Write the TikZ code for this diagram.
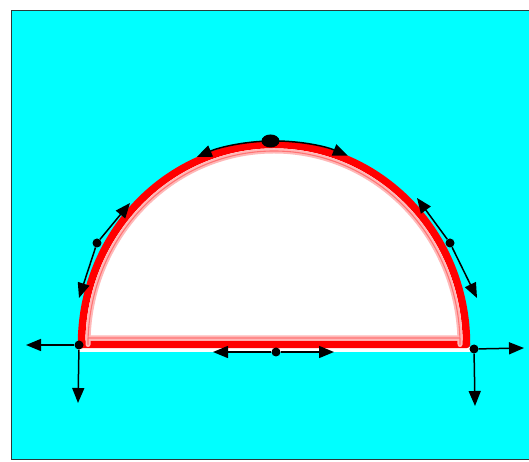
\documentclass[tikz,border=0pt]{standalone}
\usetikzlibrary{arrows.meta,shapes.geometric}
\definecolor{bgcyan}{HTML}{00FFFF}
\definecolor{framec}{HTML}{2A3A3A}
\begin{document}
\begin{tikzpicture}[x=1pt,y=1pt,
  arr/.style={line width=1.5pt,-{Triangle[length=15pt,width=12pt]}},
  dotn/.style={circle,fill=black,inner sep=0pt,minimum size=9pt},
  redband/.style={draw=red,line width=7.5pt,line join=round},
  pinkband/.style={draw=red!28,line width=5pt,line join=round},
  pinkline/.style={draw=red!55,line width=1.1pt,line join=round}]
\useasboundingbox (0,0) rectangle (529,462);
\clip (0,0) rectangle (529,462);
% frame with cyan background
\fill[white] (0,0) rectangle (529,462);
\draw[framec,line width=1.6pt,fill=bgcyan] (11.5,2.5) rectangle (545,451.5);
% white strip below the base
\fill[white] (78,110) rectangle (472,115);
% half disk
\path[fill=white,redband] (81.5,117.5) arc[start angle=180,end angle=0,x radius=192.5,y radius=200] -- cycle;
\path[pinkband] (88,124) -- (88,117.5) arc[start angle=180,end angle=0,x radius=186,y radius=193.5] -- (460,124) -- cycle;
\path[pinkline] (88,124) -- (88,117.5) arc[start angle=180,end angle=0,x radius=186,y radius=193.5] -- (460,124) -- cycle;
% dots
\node[ellipse,fill=black,inner sep=0pt,minimum width=18pt,minimum height=13pt] (top) at (270.5,321) {};
\node[dotn] (sideL) at (97,219) {};
\node[dotn] (sideR) at (450,219) {};
\node[dotn] (baseM) at (276,110) {};
\node[dotn] (cornL) at (79,117) {};
\node[dotn] (cornR) at (474,113) {};
% free ends
\coordinate (sLup) at (130,259);
\coordinate (sLdn) at (79,164);
\coordinate (sRup) at (417,264);
\coordinate (sRdn) at (477,164);
\coordinate (bMl) at (213,110);
\coordinate (bMr) at (334,110);
\coordinate (cLl) at (26,117);
\coordinate (cLd) at (78,59);
\coordinate (cRr) at (524,114);
\coordinate (cRd) at (475,56);
% arrows
\draw[arr] (top.center) arc[start angle=91,end angle=112.8,x radius=199,y radius=205];
\draw[arr] (top.center) arc[start angle=91,end angle=68.2,x radius=199,y radius=205];
\draw[arr] (sideL) -- (sLup);
\draw[arr] (sideL) -- (sLdn);
\draw[arr] (sideR) -- (sRup);
\draw[arr] (sideR) -- (sRdn);
\draw[arr] (baseM) -- (bMl);
\draw[arr] (baseM) -- (bMr);
\draw[arr] (cornL) -- (cLl);
\draw[arr] (cornL) -- (cLd);
\draw[arr] (cornR) -- (cRr);
\draw[arr] (cornR) -- (cRd);
\end{tikzpicture}
\end{document}
